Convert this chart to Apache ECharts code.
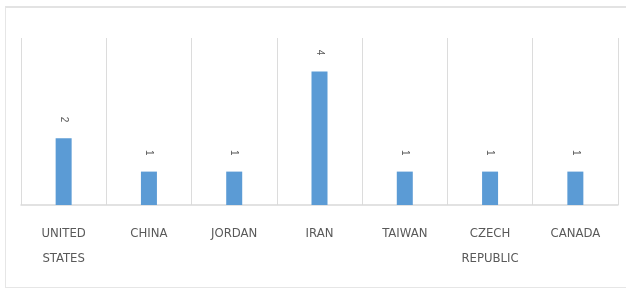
<!DOCTYPE html>
<html>
<head>
<meta charset="utf-8">
<script src="https://cdn.jsdelivr.net/npm/echarts@6/dist/echarts.min.js"></script>
<style>
  html, body { margin: 0; padding: 0; background: #fff; }
  #frame { position: absolute; left: 5px; top: 6px; width: 621px; height: 282px;
           border-top: 2px solid #e3e3e3; border-left: 1px solid #e6e6e6; border-bottom: 1px solid #e6e6e6; box-sizing: border-box; }
  #chartBox { position: absolute; left: 0; top: 0; width: 627px; height: 290px; }
</style>
</head>
<body>
<div id="frame"></div>
<div id="chartBox"></div>
<script>
// countries and counts
var countries = ['UNITED STATES', 'CHINA', 'JORDAN', 'IRAN', 'TAIWAN', 'CZECH REPUBLIC', 'CANADA'];
var counts = [2, 1, 1, 4, 1, 1, 1];

var option = {
    animation: false,
    grid: {
        left: 21,
        right: 9,
        top: 38,
        bottom: 85
    },
    xAxis: {
        type: 'category',
        data: countries,
        axisTick: { show: false },
        axisLine: { lineStyle: { color: '#d9d9d9', width: 1.5 } },
        splitLine: { show: true, lineStyle: { color: '#dcdcdc', width: 1 } },
        axisLabel: {
            interval: 0,
            margin: 16,
            color: '#595959',
            fontFamily: 'DejaVu Sans Condensed, DejaVu Sans',
            fontSize: 13,
            lineHeight: 25,
            formatter: function (v) { return v.replace(' ', '\n'); }
        }
    },
    yAxis: {
        type: 'value',
        min: 0,
        max: 5,
        show: false,
        splitLine: { show: false }
    },
    series: [{
        type: 'bar',
        data: counts,
        barWidth: 16,
        itemStyle: { color: '#5b9bd5' },
        label: {
            show: true,
            position: 'top',
            distance: 16,
            rotate: -90,
            align: 'right',
            verticalAlign: 'middle',
            color: '#595959',
            fontSize: 10
        }
    }]
};
var myChart = echarts.init(document.getElementById('chartBox'));
myChart.setOption(option);
</script>
</body>
</html>
